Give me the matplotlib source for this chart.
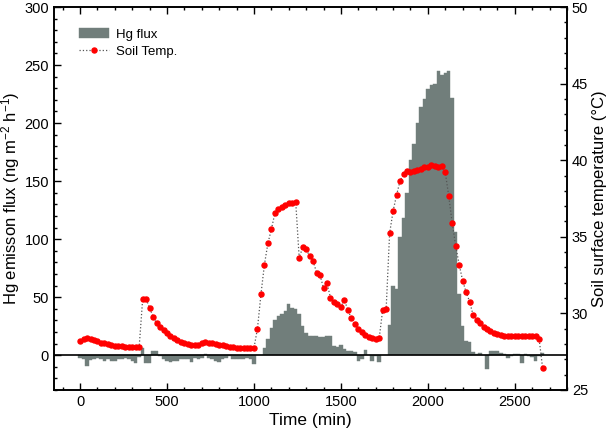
import matplotlib.pyplot as plt
from matplotlib.ticker import MultipleLocator

# tiempo (min) cada 20 minutos
tiempo = list(range(0, 2680, 20))

flujo_hg = [
    -2.3, -3.7, -8.9, -4.5, -3.7, -2.3, -2.9, -5.4, -3.2, -4.9,
    -5.4, -3.7, -3.2, -2.6, -3.7, -5.2, -6.6, -2.0, 6.3, -7.1,
    -7.1, 3.2, 3.2, -0.5, -3.7, -5.4, -6.0, -5.2, -4.6, -3.7,
    -3.7, -3.7, -6.0, -2.3, -3.7, -2.3, 1.4, -2.3, -3.7, -5.2,
    -6.0, -3.7, -2.3, -0.9, -3.2, -3.7, -3.2, -3.7, -2.3, -3.0,
    -7.3, 0.0, 0.0, 6.3, 14.1, 23.6, 29.9, 33.6, 35.6, 38.4,
    44.5, 40.8, 40.2, 35.6, 25.0, 19.2, 16.4, 16.5, 16.5, 15.8,
    16.0, 16.2, 16.2, 7.8, 7.2, 8.4, 5.0, 3.4, 3.4, 3.0,
    -4.6, -3.2, 4.3, 0.0, -4.6, -1.0, -6.0, 0.0, 0.0, 26.4,
    60.0, 57.0, 101.6, 118.0, 140.0, 168.0, 182.0, 200.0, 213.5, 220.5,
    229.5, 232.7, 233.5, 245.3, 241.6, 243.0, 245.3, 221.3, 106.0, 53.0,
    25.0, 12.0, 11.2, 2.6, 0.9, 1.5, 0.5, -12.3, 3.2, 3.7,
    3.2, 2.0, 0.9, -2.3, -0.3, 0.9, 0.9, -6.6, 0.9, -0.9,
    -1.5, -5.2, -0.9, 1.5,
]

temp_suelo = [
    28.2, 28.35, 28.4, 28.35, 28.27, 28.18, 28.1, 28.04, 27.98, 27.93,
    27.89, 27.86, 27.84, 27.82, 27.8, 27.79, 27.78, 27.83, 30.94, 30.94,
    30.35, 29.79, 29.35, 29.09, 28.92, 28.7, 28.52, 28.39, 28.26, 28.15,
    28.09, 28.0, 27.94, 27.92, 27.92, 28.05, 28.11, 28.09, 28.05, 28.0,
    27.96, 27.92, 27.87, 27.83, 27.79, 27.77, 27.75, 27.73, 27.73, 27.73,
    27.75, 29.0, 31.24, 33.18, 34.57, 35.49, 36.53, 36.79, 36.92, 37.05,
    37.18, 37.22, 37.29, 33.62, 34.31, 34.18, 33.75, 33.42, 32.66, 32.48,
    31.66, 31.96, 31.03, 30.74, 30.59, 30.44, 30.87, 30.22, 29.68, 29.31,
    29.0, 28.79, 28.61, 28.48, 28.37, 28.31, 28.37, 30.22, 30.26, 35.23,
    36.68, 37.73, 38.64, 39.12, 39.32, 39.25, 39.29, 39.36, 39.45, 39.53,
    39.58, 39.67, 39.62, 39.55, 39.62, 39.21, 37.66, 35.88, 34.4, 33.18,
    32.14, 31.38, 30.77, 29.9, 29.59, 29.35, 29.13, 28.96, 28.83, 28.72,
    28.66, 28.59, 28.54, 28.5, 28.5, 28.5, 28.5, 28.5, 28.5, 28.5,
    28.5, 28.52, 28.31, 26.41,
]

plt.rcParams['font.family'] = ['Liberation Sans', 'DejaVu Sans']
plt.rcParams['mathtext.default'] = 'regular'

fig = plt.figure(figsize=(6.1, 4.28), dpi=100)
ax = fig.add_axes([0.0885, 0.0888, 0.841, 0.8948])

ax.bar(tiempo, flujo_hg, width=20, color='#717e7b', edgecolor='#717e7b',
       linewidth=0.3, label='Hg flux', zorder=2)
ax.axhline(0, color='black', lw=1.2, zorder=3)
ax.set_xlim(-150, 2800)
ax.set_ylim(-30, 300)
ax.xaxis.set_major_locator(MultipleLocator(500))
ax.xaxis.set_minor_locator(MultipleLocator(100))
ax.yaxis.set_major_locator(MultipleLocator(50))
ax.yaxis.set_minor_locator(MultipleLocator(10))
ax.tick_params(which='both', direction='in', top=True, right=False, labelsize=10.5, width=1)
ax.tick_params(which='major', length=5)
ax.tick_params(which='minor', length=2.5)
ax.set_xlabel('Time (min)', fontsize=12.5, labelpad=3)
ax.set_ylabel('Hg emisson flux (ng m$^{-2}$ h$^{-1}$)', fontsize=12, labelpad=2)

ax2 = ax.twinx()
ax2.plot(tiempo, temp_suelo, ls=':', lw=0.9, color='#555555', marker='o',
         markersize=3.6, markerfacecolor='red', markeredgecolor='red',
         label='Soil Temp.', zorder=4)
ax2.set_ylim(25, 50)
ax2.yaxis.set_major_locator(MultipleLocator(5))
ax2.yaxis.set_minor_locator(MultipleLocator(1))
ax2.tick_params(which='both', direction='in', labelsize=10.5, width=1)
ax2.tick_params(which='major', length=5)
ax2.tick_params(which='minor', length=2.5)
ax2.set_ylabel('Soil surface temperature (°C)', fontsize=12, labelpad=3)

for a in (ax, ax2):
    for s in a.spines.values():
        s.set_linewidth(1.2)

h1, l1 = ax.get_legend_handles_labels()
h2, l2 = ax2.get_legend_handles_labels()
ax2.legend(h1 + h2, l1 + l2, loc='upper left', bbox_to_anchor=(0.025, 0.975),
           frameon=False, fontsize=9.5, handlelength=2.3, handletextpad=0.5,
           labelspacing=0.35)

fig.savefig('out.png', dpi=100)
